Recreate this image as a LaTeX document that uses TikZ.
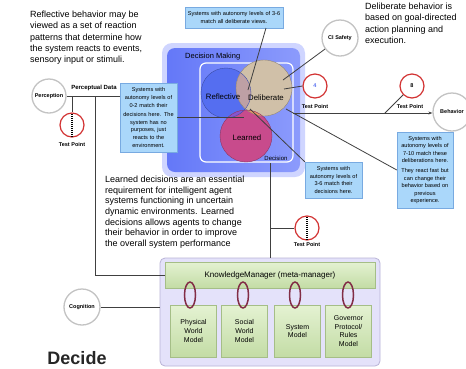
\documentclass[tikz,border=0pt]{standalone}
\usepackage{fontspec}
\setmainfont{Liberation Sans}
\usetikzlibrary{arrows.meta,shapes.geometric}
\definecolor{reflc}{RGB}{85,110,240}
\definecolor{delibc}{RGB}{208,192,168}
\definecolor{learnc}{RGB}{200,75,140}
\definecolor{rlc}{RGB}{135,85,205}
\definecolor{dlc}{RGB}{240,150,100}
\definecolor{rdc}{RGB}{190,160,165}
\definecolor{rdlc}{RGB}{215,140,115}
\definecolor{boxblue}{RGB}{170,215,250}
\definecolor{boxedge}{RGB}{120,170,225}
\definecolor{decblue}{RGB}{100,120,248}
\definecolor{decblueR}{RGB}{140,155,252}
\definecolor{decglow}{RGB}{175,185,255}
\definecolor{tpred}{RGB}{210,50,50}
\definecolor{ringgray}{RGB}{195,195,195}
\definecolor{kmbg}{RGB}{228,226,250}
\definecolor{kmedge}{RGB}{185,180,215}
\definecolor{greenA}{RGB}{228,242,210}
\definecolor{greenB}{RGB}{195,220,165}
\definecolor{greenedge}{RGB}{165,190,135}
\definecolor{ovalc}{RGB}{130,45,70}
\begin{document}
\begin{tikzpicture}[x=1pt,y=-1pt,
  ring/.style={circle, draw=ringgray, line width=1.3pt, fill=white, inner sep=0pt, font=\fontsize{5.5}{6}\selectfont\bfseries},
  tpoint/.style={circle, draw=tpred, line width=1.2pt, fill=white, inner sep=0pt, minimum size=24pt, font=\fontsize{5.5}{6}\selectfont\bfseries},
  tplabel/.style={font=\fontsize{5.5}{6}\selectfont\bfseries, inner sep=0pt},
  note/.style={align=left, font=\fontsize{9}{11.2}\selectfont, inner sep=0pt, anchor=north west},
  sbox/.style={draw=boxedge, fill=boxblue, align=center, font=\fontsize{5.6}{7.6}\selectfont, inner sep=1pt},
  conn/.style={draw=black!75, line width=0.8pt},
  tick/.style={draw=black, line width=1.3pt, dash pattern=on 0.8pt off 1.2pt},
  model/.style={draw=greenedge, top color=greenA, bottom color=greenB, align=center, font=\fontsize{7}{8.8}\selectfont, minimum width=46pt, minimum height=52pt, inner sep=0pt},
  oval/.style={ellipse, draw=ovalc, line width=1.5pt, minimum width=11pt, minimum height=26pt, inner sep=0pt},
  vlabel/.style={font=\fontsize{7.8}{8}\selectfont, inner sep=0pt}]
\useasboundingbox[fill=white] (0,0) rectangle (466,368);

% Decision making background
\fill[decglow, opacity=.6, rounded corners=10] (162,43) rectangle (305,177);
\shade[rounded corners=8, left color=decblue, right color=decblueR] (167,48) rectangle (300,172);
\draw[white, line width=1.2pt, rounded corners=6] (200,63) rectangle (293,162);
\node[anchor=west, font=\fontsize{7.5}{8}\selectfont, inner sep=0pt] (dmlabel) at (185,57) {Decision Making};

% Venn
\fill[reflc] (226,93) circle (25);
\fill[delibc] (264,88) circle (28);
\fill[learnc] (246,136) circle (26);
\begin{scope}\clip (226,93) circle (25); \fill[rlc] (246,136) circle (26); \end{scope}
\begin{scope}\clip (264,88) circle (28); \fill[dlc] (246,136) circle (26); \end{scope}
\begin{scope}\clip (226,93) circle (25); \fill[rdc] (264,88) circle (28); \end{scope}
\begin{scope}\clip (226,93) circle (25); \clip (264,88) circle (28); \fill[rdlc] (246,136) circle (26); \end{scope}
\draw[reflc!70!black, line width=0.4pt] (226,93) circle (25);
\draw[delibc!70!black, line width=0.4pt] (264,88) circle (28);
\draw[learnc!70!black, line width=0.4pt] (246,136) circle (26);
\node[vlabel] (reflab) at (223,97) {Reflective};
\node[vlabel] (delab) at (266,98) {Deliberate};
\node[vlabel] (learnlab) at (247,138) {Learned};
\node[font=\fontsize{6}{6}\selectfont, inner sep=0pt] (declab) at (276,158) {Decision};

% notes
\node[note] (reflnote) at (30,11) {Reflective behavior may be\\viewed as a set of reaction\\patterns that determine how\\the system reacts to events,\\sensory input or stimuli.};
\node[note] (delnote) at (365,3) {Deliberate behavior is\\based on goal-directed\\action planning and\\execution.};
\node[note, font=\fontsize{9}{10.6}\selectfont] (learnnote) at (105,176) {Learned decisions are an essential\\requirement for intelligent agent\\systems functioning in uncertain\\dynamic environments. Learned\\decisions allows agents to change\\their behavior in order to improve\\the overall system performance};

% blue boxes
\node[sbox, minimum width=98pt, minimum height=21pt, text width=96pt] (topbox) at (234,17.5) {Systems with autonomy levels of 3-6\\match all deliberate views.};
\node[sbox, minimum width=57pt, minimum height=69pt, text width=55pt] (leftbox) at (148.5,117.5) {Systems with\\autonomy levels of\\0-2 match their\\[2pt]decisions here. The\\system has no\\purposes, just\\reacts to the\\environment.};
\node[sbox, minimum width=57pt, minimum height=36pt, text width=55pt] (smallbox) at (333.5,180) {Systems with\\autonomy levels of\\3-6 match their\\decisions here.};
\node[sbox, minimum width=56pt, minimum height=76pt, text width=54pt] (bigbox) at (425,170) {Systems with\\autonomy levels of\\7-10 match these\\deliberations here.\\[2pt]They react fast but\\can change their\\behavior based on\\previous\\experience.};

% rings
\node[ring, minimum size=34pt] (perc) at (49,96) {Perception};
\node[ring, minimum size=36pt] (safety) at (340,38) {CI Safety};
\node[ring, minimum size=38pt] (behav) at (452,112) {Behavior};
\node[ring, minimum size=36pt] (cog) at (82,307) {Cognition};

% test points
\node[tpoint] (tp1) at (72,125) {};
\node[tpoint] (tp3) at (307,228) {};
\node[tpoint, text=reflc] (tp4) at (315,86) {4};
\node[tpoint] (tp8) at (412,86) {8};
\draw[tick] ([yshift=-1.5pt]tp1.north) -- ([yshift=1.5pt]tp1.south);
\draw[tick] ([yshift=-1.5pt]tp3.north) -- ([yshift=1.5pt]tp3.south);
\node[tplabel] (tp1l) at (72,145) {Test Point};
\node[tplabel] (tp3l) at (307,245) {Test Point};
\node[tplabel] (tp4l) at (315,107) {Test Point};
\node[tplabel] (tp8l) at (410,107) {Test Point};
\node[font=\fontsize{6}{6}\selectfont\bfseries, inner sep=0pt] (pdlabel) at (94,88) {Perceptual Data};

% knowledge manager
\draw[draw=kmedge, fill=kmbg, rounded corners=5, line width=0.8pt] (160,258) rectangle (380,366);
\coordinate (kmboxW) at (160,307);
\coordinate (kmboxN) at (270,258);
\node[draw=greenedge, top color=greenA, bottom color=greenB, minimum width=210pt, minimum height=26pt, inner sep=0pt, font=\fontsize{8}{9}\selectfont] (kmbar) at (270,275) {KnowledgeManager (meta-manager)};
\node[model] (m1) at (193.5,331) {Physical\\World\\Model};
\node[model] (m2) at (244.5,331) {Social\\World\\Model};
\node[model] (m3) at (297.5,331) {System\\Model};
\node[model] (m4) at (348.5,331) {Governor\\Protocol/\\Rules\\Model};
\node[oval] (o1) at (190,295) {};
\node[oval] (o2) at (243,295) {};
\node[oval] (o3) at (295,295) {};
\node[oval] (o4) at (348,295) {};

\node[font=\fontsize{18}{18}\selectfont\bfseries, text=black!85, inner sep=0pt] (decide) at (77,358) {Decide};

% connectors
\coordinate (tbA) at (266,28);
\coordinate (tbB) at (248,90);
\draw[conn] (tbA) -- (tbB);
\coordinate (lbEnd) at (244,117.5);
\draw[conn] (leftbox.east) -- (lbEnd);
\draw[conn] (perc.east) -- (leftbox.west |- perc.east);
\coordinate (j0) at (72,96);
\draw[conn] (j0) -- (tp1.north);
\coordinate (j1) at (95,96);
\draw[conn] (j1) |- (kmbar.west);
\draw[conn] (cog.east) -- (kmboxW);
\coordinate (decB) at (270,163);
\draw[conn] (decB) -- (kmboxN);
\coordinate (j2) at (270,228);
\draw[conn] (j2) -- (tp3.west);
\coordinate (d2) at (283,80);
\draw[conn] (d2) -- (safety);
\coordinate (d3) at (284,89);
\draw[conn] (d3) -- (tp4.west);
\coordinate (hstart) at (293,113);
\draw[conn, -{Stealth[length=4pt,width=3pt]}] (hstart) -- (behav.west |- hstart);
\coordinate (h8) at (385,113);
\draw[conn] (tp8) -- (h8);
\coordinate (d4) at (286,109);
\draw[conn] (d4) -- (bigbox.west);
\coordinate (or1) at (250,109);
\draw[conn] (or1) -- (smallbox.north west);
\end{tikzpicture}
\end{document}
